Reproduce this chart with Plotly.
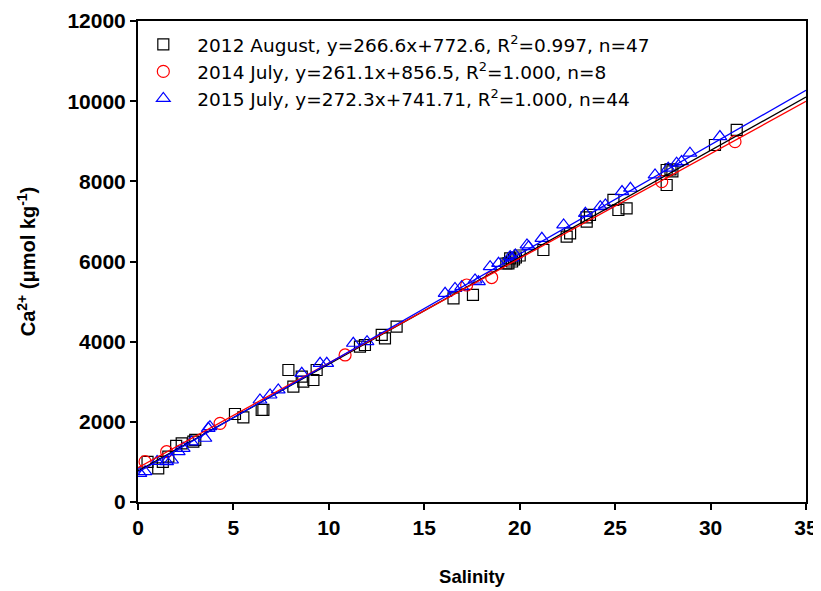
import plotly.graph_objects as go

# 2012 August (black squares)
sal_2012 = [0.5, 1.06, 1.59, 2.0, 2.29, 2.9, 5.08, 5.52, 6.48, 6.57, 7.88, 8.14, 8.58, 8.66, 9.19, 9.36,
            11.63, 11.89, 12.77, 12.94, 13.55, 16.53, 17.55, 19.3, 19.41, 19.5, 19.6, 19.7, 19.8,
            21.24, 22.46, 22.64, 23.51, 23.68, 24.91, 25.17, 25.6, 27.7, 27.7, 27.9, 30.23, 31.37,
            23.5, 20.0, 1.3, 3.0, 28.0]
ca_2012 = [1000, 840, 1130, 1400, 1465, 1505, 2195, 2113, 2295, 2300, 3293, 2877, 3127, 3003, 3044, 3293,
           3876, 3917, 4167, 4084, 4374, 5082, 5165, 5950, 5955, 6080, 6000, 6050, 6100,
           6287, 6620, 6704, 6995, 7161, 7535, 7285, 7327, 8283, 7909, 8300, 8907, 9282,
           7100, 6150, 1000, 1550, 8250]

# 2014 July (red circles)
sal_2014 = [0.37, 1.5, 4.3, 10.85, 17.22, 18.53, 27.44, 31.28]
ca_2014 = [1006, 1255, 1963, 3668, 5414, 5600, 7992, 8990]

# 2015 July (blue triangles)
sal_2015 = [0.1, 0.37, 1.5, 1.76, 2.11, 2.37, 3.51, 3.68, 3.77,
            6.39, 6.92, 7.35, 8.58, 9.54, 9.89, 11.28,
            16.09, 16.61, 16.96, 17.66, 17.84, 18.45, 18.89, 19.5, 19.77, 20.47,
            20.38, 21.16, 22.3, 23.44, 24.22, 24.49, 25.36, 25.8,
            27.09, 27.78, 28.22, 28.48, 28.92, 30.49, 1.0, 2.8, 12.0, 19.6]
ca_2015 = [715, 757, 1006, 1048, 1255, 1340, 1590, 1839, 1880,
           2545, 2670, 2795, 3210, 3460, 3460, 3960,
           5206, 5330, 5372, 5539, 5497, 5871, 5955, 6122, 6163, 6371,
           6413, 6579, 6912, 7203, 7369, 7410, 7744, 7827,
           8161, 8328, 8453, 8494, 8702, 9116, 1010, 1500, 4000, 6090]

# regression fits (slope, intercept) from legend
fits = {"2012": (266.6, 772.6), "2014": (261.1, 856.5), "2015": (272.3, 741.71)}
fit_x = [0, 35]

x_ticks = [0, 5, 10, 15, 20, 25, 30, 35]
y_ticks = [0, 2000, 4000, 6000, 8000, 10000, 12000]

labels = [
    "2012 August, y=266.6x+772.6, R<sup>2</sup>=0.997, n=47",
    "2014 July, y=261.1x+856.5, R<sup>2</sup>=1.000, n=8",
    "2015 July, y=272.3x+741.71, R<sup>2</sup>=1.000, n=44",
]

fig = go.Figure()
fig.add_trace(go.Scatter(x=sal_2012, y=ca_2012, mode="markers", name=labels[0],
                         marker=dict(symbol="square-open", size=11, color="black", line=dict(width=1.2))))
fig.add_trace(go.Scatter(x=sal_2014, y=ca_2014, mode="markers", name=labels[1],
                         marker=dict(symbol="circle-open", size=12, color="red", line=dict(width=1.2))))
fig.add_trace(go.Scatter(x=sal_2015, y=ca_2015, mode="markers", name=labels[2],
                         marker=dict(symbol="triangle-up-open", size=12, color="blue", line=dict(width=1.2))))

for key, col in [("2012", "black"), ("2014", "red"), ("2015", "blue")]:
    m, b = fits[key]
    fig.add_trace(go.Scatter(x=fit_x, y=[m * v + b for v in fit_x], mode="lines",
                             line=dict(color=col, width=1.3), showlegend=False, hoverinfo="skip"))

axis_common = dict(showline=True, linecolor="black", linewidth=2, mirror=True,
                   ticks="outside", ticklen=6, tickwidth=1.5, tickcolor="black",
                   showgrid=False, zeroline=False, automargin=False,
                   tickfont=dict(family="Liberation Sans", size=21, color="black"))

fig.update_layout(
    width=821, height=591,
    margin=dict(l=130, r=23, t=13, b=97, autoexpand=False),
    plot_bgcolor="white", paper_bgcolor="white",
    font=dict(family="Liberation Sans", color="black", size=16),
    xaxis=dict(range=[0, 35], tickvals=x_ticks, ticktext=[f"<b>{v}</b>" for v in x_ticks],
               title=dict(text="<b>Salinity</b>", font=dict(size=18.5), standoff=32), **axis_common),
    yaxis=dict(range=[0, 12000], tickvals=y_ticks, ticktext=[f"<b>{v}</b>" for v in y_ticks],
               title=dict(text="<b>Ca<sup>2+</sup> (μmol kg<sup>-1</sup>)</b>", font=dict(size=20), standoff=26),
               **axis_common),
    legend=dict(x=-0.013, y=0.99, xanchor="left", yanchor="top", bgcolor="rgba(0,0,0,0)",
                font=dict(family="DejaVu Sans", size=18.5, color="black"), tracegroupgap=0, itemwidth=58),
)

fig.write_html("out.html")
